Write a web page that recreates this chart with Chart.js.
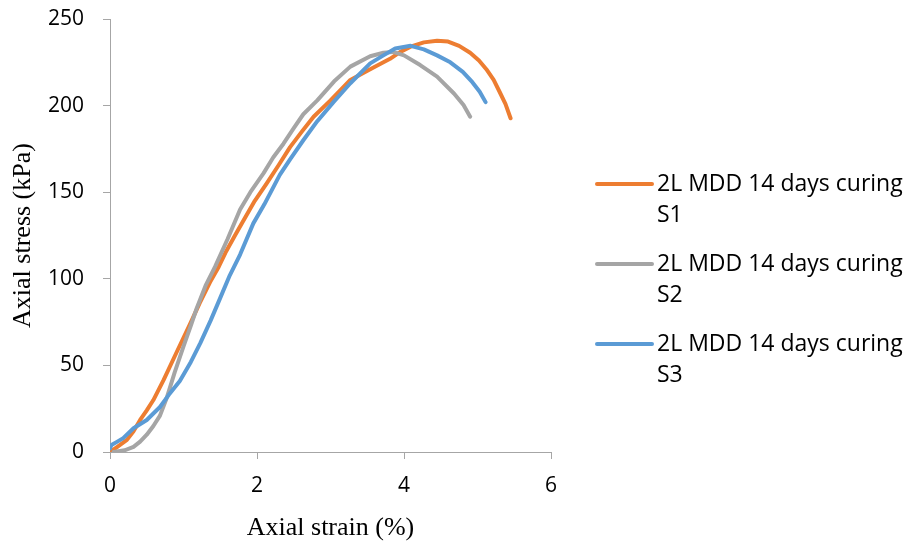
<!DOCTYPE html>
<html lang="en">
<head>
    <meta charset="UTF-8">
    <title>Axial stress vs axial strain</title>
    <script src="https://cdn.jsdelivr.net/npm/chart.js"></script>
    <style>
        body {
            margin: 0;
            background: #ffffff;
        }
        #stressChart {
            display: block;
        }
    </style>
</head>
<body>
    <canvas id="stressChart" width="907" height="544"></canvas>

    <script>
        // Sample S1
        const strainS1 = [0.00, 0.10, 0.23, 0.32, 0.41, 0.50, 0.59, 0.73, 0.90, 1.09, 1.22, 1.36, 1.48, 1.57, 1.70, 1.82, 1.97, 2.13, 2.30, 2.45, 2.61, 2.77, 3.00, 3.27, 3.54, 3.72, 3.81, 3.95, 4.09, 4.27, 4.45, 4.60, 4.75, 4.90, 5.02, 5.12, 5.22, 5.30, 5.38, 5.45];
        const stressS1 = [0, 3, 7, 12, 18.5, 24, 30, 41.6, 57, 74, 86, 98, 107, 115, 125, 134, 145, 155, 166, 176, 185, 193.6, 203, 214.8, 221, 225, 227, 231, 234, 236.5, 237.5, 237, 234.5, 230.5, 226, 221, 214.8, 208, 201, 192.7];

        // Sample S2
        const strainS2 = [0.05, 0.20, 0.32, 0.41, 0.50, 0.59, 0.68, 0.77, 0.88, 1.00, 1.10, 1.18, 1.30, 1.43, 1.60, 1.77, 1.91, 2.09, 2.22, 2.36, 2.50, 2.63, 2.82, 3.05, 3.27, 3.54, 3.72, 3.85, 4.00, 4.22, 4.45, 4.68, 4.81, 4.90];
        const stressS2 = [0, 1, 3, 6, 10, 15, 21, 31, 46, 61, 73, 83, 96, 107, 123, 140, 150, 161, 170, 178, 187, 195, 203, 214, 222.5, 228.5, 230.5, 231, 229, 223.4, 216.7, 207, 200.3, 193.6];

        // Sample S3
        const strainS3 = [0.00, 0.02, 0.10, 0.18, 0.32, 0.50, 0.68, 0.80, 0.95, 1.10, 1.23, 1.37, 1.50, 1.63, 1.77, 1.95, 2.10, 2.31, 2.45, 2.63, 2.82, 3.04, 3.27, 3.54, 3.72, 3.88, 4.09, 4.27, 4.45, 4.63, 4.80, 4.93, 5.03, 5.11];
        const stressS3 = [2, 4, 6, 8, 13.7, 18.5, 26, 33, 41, 52, 63, 76, 89, 102, 114, 132, 143, 160, 169, 180, 191, 202, 212.9, 224.4, 229, 233, 234.5, 232.5, 229, 225, 219.5, 213.5, 208, 202];

        const seriesLabels = ['2L MDD 14 days curing S1', '2L MDD 14 days curing S2', '2L MDD 14 days curing S3'];
        const seriesColors = ['#ED7D31', '#A5A5A5', '#5B9BD5'];

        const xTicks = [0, 2, 4, 6];
        const yTicks = [0, 50, 100, 150, 200, 250];

        function toPoints(xs, ys) {
            return xs.map((x, i) => ({ x: x, y: ys[i] }));
        }

        const axisColor = '#a6a6a6';
        const tickFont = { family: "'Open Sans'", size: 21 };
        const titleFont = { family: "'Liberation Serif'", size: 26 };

        // legend drawn to the right of the plot, labels wrapped onto two lines
        const sideLegend = {
            id: 'sideLegend',
            afterDraw(chart) {
                const ctx = chart.ctx;
                const area = chart.chartArea;
                const x0 = area.right + 46;
                const lineW = 55;
                const textX = x0 + lineW + 5;
                ctx.save();
                ctx.font = "23px 'Open Sans'";
                ctx.textBaseline = 'middle';
                ctx.textAlign = 'left';
                chart.data.datasets.forEach((ds, i) => {
                    const y = 184 + i * 80;
                    ctx.strokeStyle = ds.borderColor;
                    ctx.lineWidth = 4;
                    ctx.lineCap = 'round';
                    ctx.beginPath();
                    ctx.moveTo(x0, y);
                    ctx.lineTo(x0 + lineW, y);
                    ctx.stroke();

                    const words = ds.label.split(' ');
                    const last = words.pop();
                    ctx.fillStyle = '#000000';
                    ctx.fillText(words.join(' '), textX, y);
                    ctx.fillText(last, textX, y + 31);
                });
                ctx.restore();
            }
        };

        const ctx = document.getElementById('stressChart').getContext('2d');
        const stressChart = new Chart(ctx, {
            type: 'scatter',
            data: {
                datasets: [
                    { label: seriesLabels[0], data: toPoints(strainS1, stressS1), borderColor: seriesColors[0], order: 3 },
                    { label: seriesLabels[1], data: toPoints(strainS2, stressS2), borderColor: seriesColors[1], order: 2 },
                    { label: seriesLabels[2], data: toPoints(strainS3, stressS3), borderColor: seriesColors[2], order: 1 }
                ]
            },
            options: {
                responsive: false,
                animation: false,
                showLine: true,
                elements: {
                    point: { radius: 0 },
                    line: { borderWidth: 4, tension: 0, borderJoinStyle: 'round', borderCapStyle: 'round', fill: false }
                },
                layout: {
                    padding: { left: 0, top: 19, right: 356, bottom: 0 }
                },
                plugins: {
                    legend: { display: false },
                    tooltip: { enabled: false }
                },
                scales: {
                    x: {
                        type: 'linear',
                        min: 0,
                        max: 6,
                        afterBuildTicks: scale => { scale.ticks = xTicks.map(v => ({ value: v })); },
                        afterFit: scale => { scale.height = 92; },
                        grid: { drawOnChartArea: false, drawTicks: true, tickLength: 7, color: axisColor },
                        border: { color: axisColor, width: 1 },
                        ticks: { font: tickFont, color: '#000000', padding: 14, maxRotation: 0 },
                        title: { display: true, text: 'Axial strain (%)', font: titleFont, color: '#000000', padding: { top: 0, bottom: 0 } }
                    },
                    y: {
                        type: 'linear',
                        min: 0,
                        max: 250,
                        afterBuildTicks: scale => { scale.ticks = yTicks.map(v => ({ value: v })); },
                        afterFit: scale => {
                            scale.width = 110;
                            scale.paddingTop = 0;
                            scale.paddingBottom = 0;
                        },
                        grid: { drawOnChartArea: false, drawTicks: true, tickLength: 7, color: axisColor },
                        border: { color: axisColor, width: 1 },
                        ticks: { font: tickFont, color: '#000000', padding: 19 },
                        title: { display: true, text: 'Axial stress (kPa)', font: titleFont, color: '#000000', padding: { top: 8, bottom: 0 } }
                    }
                }
            },
            plugins: [sideLegend]
        });
    </script>
</body>
</html>
